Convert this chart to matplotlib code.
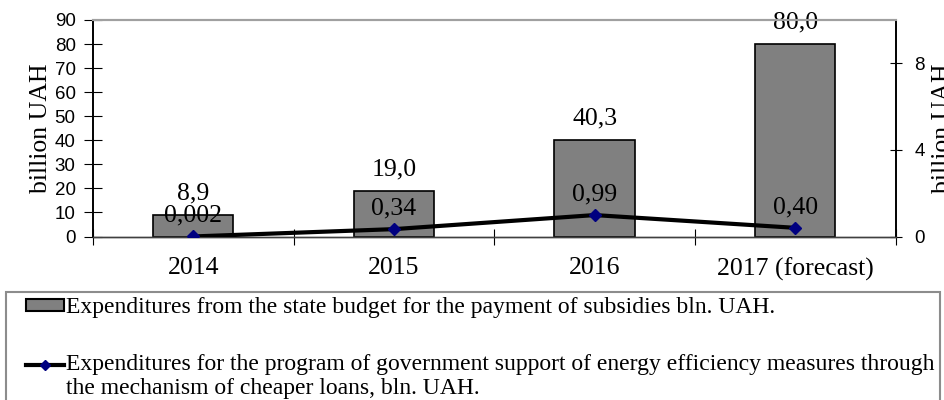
import numpy as np
import matplotlib
matplotlib.use("Agg")
from matplotlib import pyplot as plt
from matplotlib.lines import Line2D
from matplotlib.patches import Patch, Rectangle
from matplotlib.legend_handler import HandlerPatch, HandlerLine2D

years = ["2014", "2015", "2016", "2017 (forecast)"]
subsidies = [8.9, 19.0, 40.3, 80.0]
subsidy_labels = ["8,9", "19,0", "40,3", "80,0"]
loans = [0.002, 0.34, 0.99, 0.40]
loan_labels = ["0,002", "0,34", "0,99", "0,40"]

serif = "Liberation Serif"
sans = "Liberation Sans"


# legend handles pushed right, line handle lifted to the first text line
class ShiftPatch(HandlerPatch):
    def create_artists(self, legend, orig_handle, xdescent, ydescent, width, height, fontsize, trans):
        p = Rectangle((-xdescent + 10, -ydescent), width - 10, height)
        self.update_prop(p, orig_handle, legend)
        p.set_transform(trans)
        return [p]


class ShiftLine(HandlerLine2D):
    def create_artists(self, legend, orig_handle, xdescent, ydescent, width, height, fontsize, trans):
        arts = super().create_artists(legend, orig_handle, xdescent, ydescent, width, height, fontsize, trans)
        for a in arts:
            xd = np.asarray(a.get_xdata(), dtype=float)
            yd = np.asarray(a.get_ydata(), dtype=float)
            a.set_xdata(np.linspace(-xdescent + 10, width - xdescent, len(xd)))
            a.set_ydata(yd + 9)
        return arts


fig = plt.figure(figsize=(9.44, 4.0), dpi=100)
ax = fig.add_axes([93/944, 163.5/400, 802.6/944, 216.5/400])
ax2 = ax.twinx()

x = np.arange(len(years))
ax.bar(x, subsidies, width=0.4, color="#808080", edgecolor="black", linewidth=1.2, zorder=2)
for xi, v, lab in zip(x, subsidies, subsidy_labels):
    ax.annotate(lab, (xi, v), xytext=(0, 15.5), textcoords="offset points",
                ha="center", va="center", fontsize=18.5, family=serif)

ax2.plot(x, loans, color="black", lw=3, marker="D", markersize=6,
         markerfacecolor="#000080", markeredgecolor="#000080", zorder=3)
for xi, v, lab in zip(x, loans, loan_labels):
    ax2.annotate(lab, (xi, v), xytext=(0, 15), textcoords="offset points",
                 ha="center", va="center", fontsize=18.5, family=serif)

ax.set_xlim(-0.5, 3.5)
ax.set_ylim(0, 90)
ax2.set_ylim(0, 10)
ax.set_yticks(np.arange(0, 91, 10))
ax2.set_yticks([0, 4, 8])

ax.set_xticks([-0.5, 0.5, 1.5, 2.5, 3.5])
ax.set_xticklabels([])
ax.set_xticks(x, minor=True)
ax.set_xticklabels(years, minor=True, fontsize=18.5, family=serif)
ax.tick_params(axis="x", which="minor", length=0, pad=15)
ax.tick_params(axis="x", which="major", direction="inout", length=11)

ax.tick_params(axis="y", direction="inout", length=13, labelsize=13.5, pad=6)
ax2.tick_params(axis="y", direction="inout", length=9, labelsize=13.5, pad=9)
for t in ax.get_yticklabels() + ax2.get_yticklabels():
    t.set_family(sans)

ax.set_ylabel("billion UAH", fontsize=18.5, family=serif, labelpad=2)
ax2.set_ylabel("billion UAH", fontsize=18.5, family=serif, labelpad=5)

for a in (ax, ax2):
    a.spines["top"].set_color("#a0a0a0")
    a.spines["top"].set_linewidth(1.5)
    a.spines["left"].set_linewidth(1.2)
    a.spines["right"].set_linewidth(1.2)
    a.spines["bottom"].set_linewidth(1.0)
    a.spines["bottom"].set_color("#404040")

bar_handle = Patch(facecolor="#808080", edgecolor="black", linewidth=1.5)
line_handle = Line2D([0], [0], color="black", lw=3, marker="D", markersize=5,
                     markerfacecolor="#000080", markeredgecolor="#000080")
names = ["Expenditures from the state budget for the payment of subsidies bln. UAH.",
         "Expenditures for the program of government support of energy efficiency measures through\nthe mechanism of cheaper loans, bln. UAH."]
leg = fig.legend([bar_handle, line_handle], names, loc="upper left",
                 bbox_to_anchor=(6/944, 1 - 291.5/400),
                 handler_map={bar_handle: ShiftPatch(), line_handle: ShiftLine()},
                 prop={"family": serif, "size": 17}, frameon=True, fancybox=False,
                 edgecolor="#707070", handlelength=2.2, handleheight=0.38,
                 handletextpad=0.08, labelspacing=1.5, borderpad=0.25, borderaxespad=0)
leg.get_frame().set_linewidth(1.5)

fig.savefig("out.png", dpi=100)
